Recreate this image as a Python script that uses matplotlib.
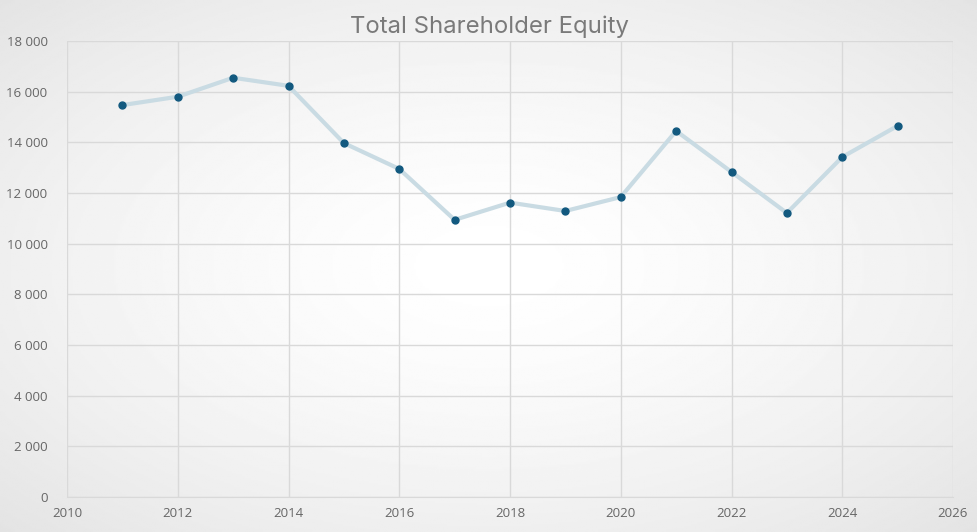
import matplotlib
matplotlib.use('Agg')
import matplotlib.pyplot as plt
from matplotlib.ticker import FuncFormatter, MultipleLocator
import numpy as np

plt.rcParams['font.family'] = ['Open Sans', 'DejaVu Sans']

# 数据
years = [2011, 2012, 2013, 2014, 2015, 2016, 2017, 2018, 2019, 2020, 2021, 2022, 2023, 2024, 2025]
equity = [15470, 15800, 16550, 16230, 13970, 12950, 10940, 11620, 11290, 11840, 14450, 12830, 11210, 13420, 14650]

fig = plt.figure(figsize=(9.78, 5.32), dpi=100)

# 背景径向渐变
bg = fig.add_axes([0, 0, 1, 1], zorder=-10)
yy, xx = np.mgrid[-1:1:300j, -1:1:500j]
r = np.sqrt((xx * 0.9) ** 2 + (yy * 0.9) ** 2)
bg.imshow(1 - 0.075 * np.clip(r, 0, 1.3) ** 1.5, cmap='gray', vmin=0, vmax=1,
          extent=[0, 1, 0, 1], aspect='auto')
bg.axis('off')

ax = fig.add_axes([67 / 978, 1 - 497 / 532, (953 - 67) / 978, (497 - 41) / 532])
ax.patch.set_alpha(0)

ax.plot(years, equity, color='#c9dbe3', linewidth=3, zorder=2)
ax.plot(years, equity, linestyle='none', marker='o', markersize=5,
        color='#12597f', zorder=3)

ax.set_xlim(2010, 2026)
ax.set_ylim(0, 18000)
ax.xaxis.set_major_locator(MultipleLocator(2))
ax.yaxis.set_major_locator(MultipleLocator(2000))
ax.yaxis.set_major_formatter(FuncFormatter(lambda v, p: f'{int(v):,}'.replace(',', ' ')))

ax.grid(True, color='#d9d9d9', linewidth=1)
ax.set_axisbelow(True)
for s in ax.spines.values():
    s.set_visible(False)
ax.spines['bottom'].set_visible(True)
ax.spines['bottom'].set_color('#d9d9d9')

ax.tick_params(length=0, labelsize=9.5, colors='#666666')
ax.tick_params(axis='y', pad=14)
ax.tick_params(axis='x', pad=7)

fig.text(0.5, 1 - 27 / 532, 'Total Shareholder Equity', ha='center', va='center',
         fontsize=17.2, color='#7a7a7a', family=['Inter', 'DejaVu Sans'])

plt.savefig('out.png', dpi=100)
